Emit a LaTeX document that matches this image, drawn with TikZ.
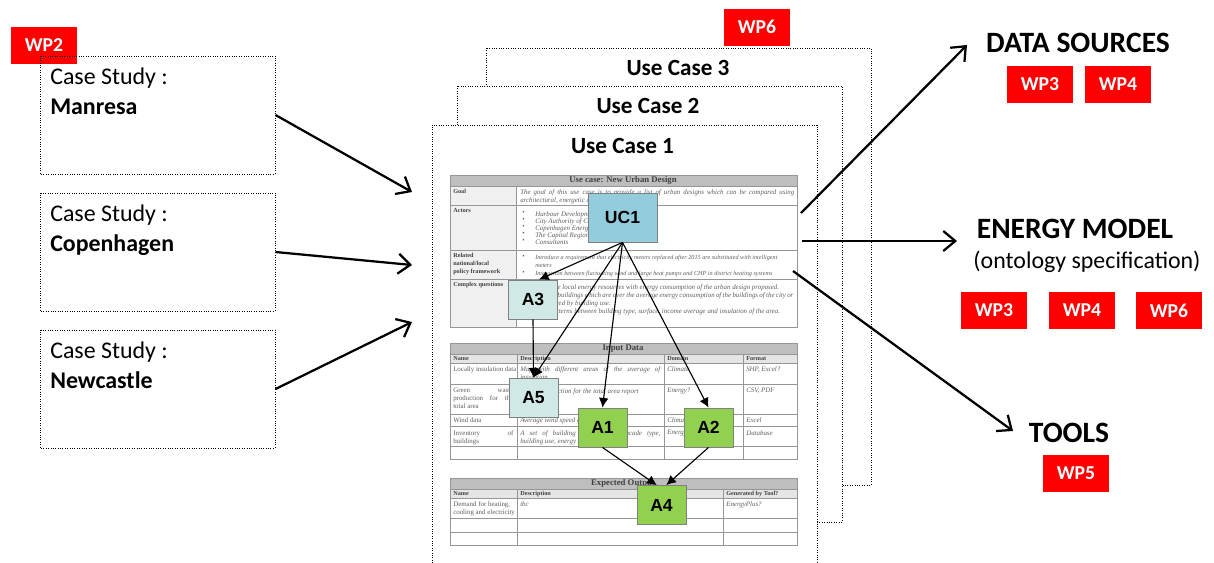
\documentclass[tikz,border=0pt]{standalone}
\usepackage{fontspec}
\setmainfont{Carlito}
\newfontfamily\arialfont{Liberation Sans}
\newfontfamily\timesfont{Liberation Serif}
\usepackage{tikz}
\usetikzlibrary{arrows.meta}

\definecolor{wpred}{RGB}{255,0,0}
\definecolor{ucblue}{RGB}{147,205,221}
\definecolor{apale}{RGB}{208,232,230}
\definecolor{agreen}{RGB}{146,208,80}
\definecolor{tabline}{RGB}{150,150,150}
\definecolor{tabhead}{RGB}{190,190,190}
\definecolor{tabtext}{RGB}{95,95,95}

\newcommand\tabfont{\timesfont\fontsize{4.9}{5.6}\selectfont}
\newcommand\tabsmall{\timesfont\fontsize{4.4}{5.6}\selectfont}
\newcommand\tabhdfont{\timesfont\fontsize{6.2}{7}\selectfont\bfseries}

\begin{document}
\begin{tikzpicture}[x=0.025cm, y=-0.025cm,
  wp/.style={fill=wpred, text=white, font=\fontsize{14}{16}\selectfont\bfseries, minimum width=1.65cm, minimum height=0.925cm, inner sep=0pt},
  casebox/.style={draw, densely dotted, line width=0.7pt, minimum width=5.85cm, minimum height=2.95cm},
  casetext/.style={anchor=north west, align=left, inner sep=0pt, font=\fontsize{17}{21}\selectfont},
  page/.style={draw, densely dotted, line width=0.7pt, fill=white},
  pagetitle/.style={anchor=base, inner sep=0pt, font=\fontsize{16.5}{19}\selectfont\bfseries},
  heading/.style={anchor=base, inner sep=0pt, font=\fontsize{21}{24}\selectfont\bfseries},
  act/.style={draw=gray, line width=0.6pt, font=\arialfont\fontsize{12.5}{14}\selectfont\bfseries, minimum width=1.225cm, minimum height=0.975cm, inner sep=0pt},
  flow/.style={-{Latex[length=2.4mm,width=2.4mm]}, line width=0.8pt},
  feed/.style={-{Straight Barb[length=3mm,width=5mm]}, line width=1.6pt},
  tab/.style={draw=tabline, line width=0.6pt},
  cell/.style={anchor=north west, inner sep=0pt, align=left, text=tabtext, font=\tabfont\itshape},
  cellup/.style={anchor=north west, inner sep=0pt, align=left, text=tabtext, font=\tabfont},
  cellhd/.style={anchor=north west, inner sep=0pt, align=left, text=black!75, font=\tabsmall\bfseries},
]
\useasboundingbox (0,0) rectangle (1214,562);

% Case studies
\node[wp] (wp2) at (44,45.5) {WP2};
\node[casebox] (manresa) at (158,115) {};
\node[casebox] (copenhagen) at (158,252) {};
\node[casebox] (newcastle) at (158,389) {};
\node[casetext] (manresa-t) at (50,68) {Case Study :\\\textbf{Manresa}};
\node[casetext] (copenhagen-t) at (50,205) {Case Study :\\\textbf{Copenhagen}};
\node[casetext] (newcastle-t) at (50,342) {Case Study :\\\textbf{Newcastle}};

% Use case pages
\draw[page] (486,48) rectangle (871,485);
\draw[page] (457,86) rectangle (842,522);
\draw[page] (432,575) -- (432,125) -- (817,125) -- (817,575);
\node[wp] (wp6) at (757,27) {WP6};
\node[pagetitle] (uc3-t) at (678,75) {Use Case 3};
\node[pagetitle] (uc2-t) at (648,113) {Use Case 2};
\node[pagetitle] (uc1-t) at (622.5,153) {Use Case 1};

% Table: use case description
\fill[tabhead] (450,175) rectangle (797,186);
\fill[gray!12] (450,186) rectangle (516,327);
\draw[tab] (450,175) rectangle (797,327);
\foreach \y in {186,205,250,279} \draw[tab] (450,\y) -- (797,\y);
\draw[tab] (516,186) -- (516,327);
\node[cellhd, anchor=center, font=\tabhdfont] (t1-head) at (623,180.5) {Use case: New Urban Design};
\node[cellhd] (goal) at (453,189) {Goal};
\node[cellhd] (actors) at (453,208) {Actors};
\node[cellhd] (policy) at (453,253) {Related\\national/local\\policy framework};
\node[cellhd] (questions) at (453,282) {Complex questions};
\node[cell, text width=6.85cm, align=justify] (goal-t) at (520,189) {The goal of this use case is to provide a list of urban designs which can be compared using\linebreak architectural, energetic and other criteria.};
\foreach \who [count=\i] in {Harbour Development Agency, City Authority of Copenhagen, Copenhagen Energy, The Capital Region of Denmark, Consultants} {
  \node[cellup] (actor-b\i) at (522,{204+7*\i}) {\textbullet};
  \node[cell] (actor\i) at (535,{204+7*\i}) {\who};
}
\node[cellup] (policy-b1) at (522,255) {\textbullet};
\node[cell, font=\tabsmall\itshape] (policy1) at (535,255) {Introduce a requirement that electricity meters replaced after 2015 are substituted with intelligent\\meters};
\node[cellup] (policy-b2) at (522,271) {\textbullet};
\node[cell, font=\tabsmall\itshape] (policy2) at (535,271) {Interaction between fluctuating wind and large heat pumps and CHP in district heating systems};
\node[cellup] (quest-b1) at (522,284) {\textbullet};
\node[cell] (quest1) at (535,284) {Compare local energy resources with energy consumption of the urban design proposed.};
\node[cellup] (quest-b2) at (522,292) {\textbullet};
\node[cell, text width=6.45cm, align=justify] (quest2) at (535,292) {Identify buildings which are over the average energy consumption of the buildings of the city or\linebreak are altered by building use.};
\node[cellup] (quest-b3) at (522,308) {\textbullet};
\node[cell] (quest3) at (535,308) {Find patterns between building type, surface, income average and insulation of the area.};
\node[cellup] (quest-b4) at (522,317) {\textbullet};

% Table: input data
\fill[tabhead] (450,343) rectangle (797,354);
\fill[gray!20] (450,354) rectangle (797,363);
\draw[tab] (450,343) rectangle (797,459);
\foreach \y in {354,363,384,414,426,446} \draw[tab] (450,\y) -- (797,\y);
\foreach \x in {517,664,743} \draw[tab] (\x,354) -- (\x,459);
\node[cellhd, anchor=center, font=\tabhdfont] (t2-head) at (623,348.5) {Input Data};
\node[cellhd] (in-name) at (453,356) {Name};
\node[cellhd] (in-desc) at (520,356) {Description};
\node[cellhd] (in-dom) at (667,356) {Domain};
\node[cellhd] (in-form) at (746,356) {Format};
\node[cellup] (in-n1) at (453,366) {Locally insulation data};
\node[cell, text width=3.5cm, align=justify] (in-d1) at (520,366) {Map with different areas of the average of\linebreak insulation};
\node[cell] (in-m1) at (667,366) {Climate};
\node[cell] (in-f1) at (746,366) {SHP, Excel?};
\node[cellup, text width=1.5cm, align=justify] (in-n2) at (453,388) {Green waste\linebreak production for the\linebreak total area};
\node[cell] (in-d2) at (520,388) {Energy production for the total area report};
\node[cell] (in-m2) at (667,388) {Energy?};
\node[cell] (in-f2) at (746,388) {CSV, PDF};
\node[cellup] (in-n3) at (453,417) {Wind data};
\node[cell] (in-d3) at (520,417) {Average wind speed data};
\node[cell] (in-m3) at (667,417) {Climate};
\node[cell] (in-f3) at (746,417) {Excel};
\node[cellup, text width=1.5cm, align=justify] (in-n4) at (453,430) {Inventory of\linebreak buildings};
\node[cell, text width=3.5cm, align=justify] (in-d4) at (520,430) {A set of building data: year, facade type,\linebreak building use, energy consumption};
\node[cell] (in-m4) at (667,430) {Energy};
\node[cell] (in-f4) at (746,430) {Database};

% Table: expected output
\fill[tabhead] (450,478) rectangle (797,489);
\fill[gray!20] (450,489) rectangle (797,498);
\draw[tab] (450,478) rectangle (797,545);
\foreach \y in {489,498,518,532} \draw[tab] (450,\y) -- (797,\y);
\foreach \x in {517,723} \draw[tab] (\x,489) -- (\x,545);
\node[cellhd, anchor=center, font=\tabhdfont] (t3-head) at (623,483.5) {Expected Output};
\node[cellhd] (out-name) at (453,491) {Name};
\node[cellhd] (out-desc) at (520,491) {Description};
\node[cellhd] (out-tool) at (726,491) {Generated by Tool?};
\node[cellup] (out-n1) at (453,501) {Demand for heating,\\cooling and electricity};
\node[cell] (out-d1) at (520,501) {tbc};
\node[cell] (out-t1) at (726,501) {EnergyPlus?};

% Activity boxes
\node[act, fill=ucblue, minimum width=1.725cm, minimum height=1.225cm] (uc1) at (622.5,217.5) {UC1};
\node[act, fill=apale] (a3) at (533,299.5) {A3};
\node[act, fill=apale] (a5) at (533.5,397.5) {A5};
\node[act, fill=agreen] (a1) at (602.5,427.5) {A1};
\node[act, fill=agreen] (a2) at (708.5,427.5) {A2};
\node[act, fill=agreen] (a4) at (661.5,505) {A4};

% Arrows inside use case
\draw[flow] (uc1.south) -- ([xshift=0.15cm]a3.north);
\draw[flow] (uc1.south) -- (a5.north);
\draw[flow] (a3.south) -- (a5.north);
\draw[flow] (uc1.south) -- (a1.north);
\draw[flow] (uc1.south) -- (a2.north);
\draw[flow] (a1.south) -- ([xshift=-0.12cm]a4.north);
\draw[flow] (a2.south) -- ([xshift=0.12cm]a4.north);

% Outputs
\node[heading] (sources) at (1078,52) {DATA SOURCES};
\node[wp] (wp3a) at (1040,84.5) {WP3};
\node[wp] (wp4a) at (1118,84.5) {WP4};
\node[heading] (model) at (1075,238) {ENERGY MODEL};
\node[anchor=base, inner sep=0pt, font=\fontsize{17}{20}\selectfont] (model-sub) at (1087,268) {(ontology specification)};
\node[wp] (wp3b) at (994,310.5) {WP3};
\node[wp] (wp4b) at (1082,310.5) {WP4};
\node[wp] (wp6b) at (1169,310.5) {WP6};
\node[heading] (tools) at (1069,442) {TOOLS};
\node[wp] (wp5) at (1076,473.5) {WP5};

% Arrows
\coordinate (in1) at (412,192);
\coordinate (in2) at (412,265);
\coordinate (in3) at (412,322);
\draw[feed] (manresa.east) -- (in1);
\draw[feed] (copenhagen.east) -- (in2);
\draw[feed] (newcastle.east) -- (in3);
\coordinate (out1) at (801,213);
\coordinate (out2) at (802,241);
\coordinate (out3) at (793,271);
\coordinate (to-sources) at (967,45);
\coordinate (to-model) at (957,241);
\coordinate (to-tools) at (1013,431);
\draw[feed] (out1) -- (to-sources);
\draw[feed] (out2) -- (to-model);
\draw[feed] (out3) -- (to-tools);
\end{tikzpicture}
\end{document}
